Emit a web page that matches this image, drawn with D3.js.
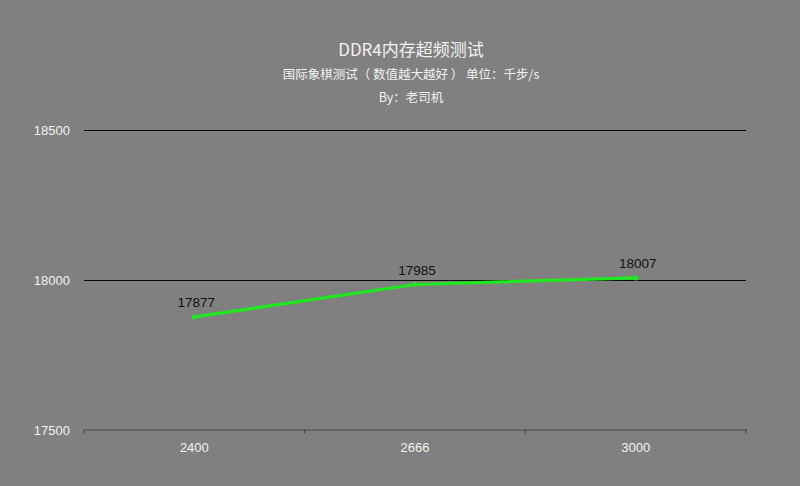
<!DOCTYPE html>
<html><head><meta charset="utf-8">
<script src="https://cdn.jsdelivr.net/npm/d3@7"></script>
<style>
html,body{margin:0;padding:0;background:#808080;}
svg{display:block;}
</style></head>
<body>
<svg id="c" width="800" height="486"></svg>
<script>
const categories = ["2400", "2666", "3000"];
const values = [17877, 17985, 18007];
const yTicks = [17500, 18000, 18500];
const titleText = "DDR4内存超频测试";
const subtitleText = "国际象棋测试（ 数值越大越好 ） 单位：千步/s";
const authorText = "By：老司机";

const W = 800, H = 486;
const m = {left: 84, right: 54, top: 130, bottom: 56};
const svg = d3.select("#c");
svg.append("rect").attr("width", W).attr("height", H).attr("fill", "#808080");

const font = "'Microsoft YaHei','Noto Sans CJK SC',sans-serif";
const x = d3.scaleBand().domain(categories).range([m.left, W - m.right]);
const y = d3.scaleLinear().domain([17500, 18500]).range([H - m.bottom, m.top]);

// titles
const tcx = 411;
svg.append("text").attr("x", tcx).attr("y", 56).attr("text-anchor", "middle")
  .attr("fill", "#f2f2f2").attr("font-family", font).attr("font-size", 17).text(titleText);
svg.append("text").attr("x", tcx).attr("y", 79).attr("text-anchor", "middle")
  .attr("fill", "#f2f2f2").attr("font-family", font).attr("font-size", 12.5).text(subtitleText);
svg.append("text").attr("x", tcx).attr("y", 102).attr("text-anchor", "middle")
  .attr("fill", "#f2f2f2").attr("font-family", font).attr("font-size", 12.5).text(authorText);

// grid lines
const grid = svg.append("g");
yTicks.filter(t => t !== 17500).forEach(t => {
  grid.append("line").attr("x1", m.left).attr("x2", W - m.right)
    .attr("y1", Math.round(y(t)) + 0.5).attr("y2", Math.round(y(t)) + 0.5)
    .attr("stroke", "#0a0a0a").attr("stroke-width", 1.2);
});

// y axis labels
const yAxis = d3.axisLeft(y).tickValues(yTicks).tickSize(0).tickPadding(14).tickFormat(d3.format("d"));
const yg = svg.append("g").attr("transform", `translate(${m.left},0.5)`).call(yAxis);
yg.select(".domain").remove();
yg.selectAll("text").attr("fill", "#f2f2f2").attr("font-size", 13)
  .attr("font-family", "Arial, 'Liberation Sans', sans-serif");

// x axis
const xAxis = d3.axisBottom(x).tickSize(0).tickPadding(10);
const xg = svg.append("g").attr("transform", `translate(0,${y(17500) - 0.5})`).call(xAxis);
xg.select(".domain").attr("stroke", "#4a4a4a").attr("stroke-width", 1.2);
xg.selectAll("text").attr("fill", "#f2f2f2").attr("font-size", 13)
  .attr("font-family", "Arial, 'Liberation Sans', sans-serif").attr("dy", "0.95em");
// band boundary ticks
const bounds = categories.map(c => x(c)).concat([x(categories[categories.length - 1]) + x.bandwidth()]);
xg.selectAll(".bt").data(bounds).enter().append("line")
  .attr("x1", d => d).attr("x2", d => d).attr("y1", 0).attr("y2", 4)
  .attr("stroke", "#4a4a4a").attr("stroke-width", 1.2);

// line
const cx = c => x(c) + x.bandwidth() / 2;
const data = categories.map((c, i) => ({c, v: values[i]}));
svg.append("path").datum(data)
  .attr("d", d3.line().x(d => cx(d.c)).y(d => y(d.v)))
  .attr("fill", "none").attr("stroke", "#1ee81e").attr("stroke-width", 3.2)
  .attr("stroke-linejoin", "round").attr("stroke-linecap", "round");
svg.selectAll(".pt").data(data).enter().append("circle")
  .attr("cx", d => cx(d.c)).attr("cy", d => y(d.v)).attr("r", 2.5).attr("fill", "#1ee81e");

// data labels
svg.selectAll(".lbl").data(data).enter().append("text")
  .attr("x", d => cx(d.c) + 2).attr("y", d => y(d.v) - 10)
  .attr("text-anchor", "middle").attr("fill", "#111").attr("font-size", 13.5)
  .attr("font-family", "Arial, 'Liberation Sans', sans-serif")
  .text(d => d.v);
</script>
</body></html>
